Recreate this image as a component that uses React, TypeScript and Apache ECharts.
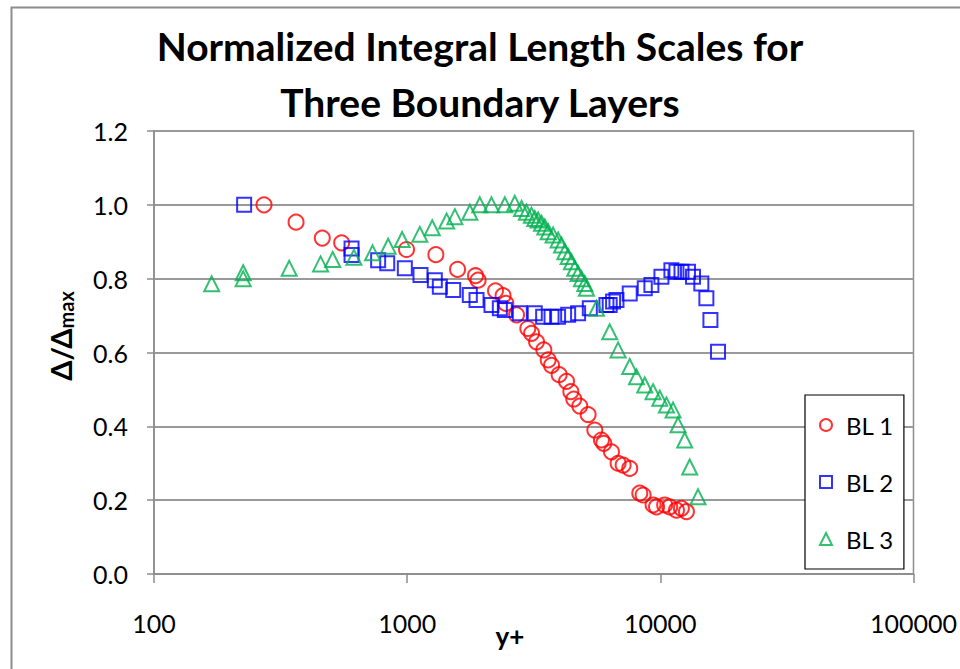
import React, { useEffect, useRef } from "react";
import * as echarts from "echarts";

const titleLines = ["Normalized Integral Length Scales for", "Three Boundary Layers"];
const xTicks = [100, 1000, 10000, 100000];
const seriesNames = ["BL 1", "BL 2", "BL 3"];
const xAxisTitle = "y+";

const bl1: [number, number][] = [
  [272, 1.0], [364, 0.953], [462, 0.91], [551, 0.897], [994, 0.879], [1298, 0.865],
  [1581, 0.825], [1862, 0.808], [1906, 0.796], [2233, 0.767], [2392, 0.754], [2453, 0.733],
  [2704, 0.702], [2996, 0.665], [3100, 0.652], [3243, 0.629], [3466, 0.607], [3605, 0.58],
  [3718, 0.565], [3984, 0.54], [4260, 0.522], [4430, 0.494], [4550, 0.474], [4806, 0.455],
  [5185, 0.432], [5510, 0.39], [5853, 0.363], [5980, 0.354], [6412, 0.331], [6809, 0.30],
  [7130, 0.295], [7571, 0.286], [8295, 0.219], [8550, 0.214], [9360, 0.187], [9660, 0.182],
  [10400, 0.187], [10890, 0.182], [11580, 0.173], [12110, 0.178], [12680, 0.169],
];

const bl2: [number, number][] = [
  [227, 1.0], [603, 0.882], [603, 0.864], [768, 0.85], [834, 0.842], [979, 0.828],
  [1129, 0.81], [1286, 0.796], [1346, 0.778], [1520, 0.769], [1768, 0.756], [1879, 0.742],
  [2153, 0.729], [2323, 0.72], [2431, 0.715], [2786, 0.706], [3192, 0.706], [3444, 0.697],
  [3718, 0.697], [3946, 0.697], [4324, 0.702], [4733, 0.706], [5266, 0.72], [6125, 0.729],
  [6310, 0.729], [6506, 0.738], [6710, 0.742], [7570, 0.76], [8680, 0.774], [9220, 0.783],
  [10100, 0.805], [11060, 0.823], [11580, 0.819], [12120, 0.819], [12860, 0.819],
  [13460, 0.805], [14520, 0.787], [15200, 0.747], [15770, 0.688], [16900, 0.602],
];

const bl3: [number, number][] = [
  [169, 0.786], [225, 0.816], [225, 0.80], [342, 0.828], [455, 0.84], [508, 0.852],
  [616, 0.858], [730, 0.87], [841, 0.888], [955, 0.906], [1122, 0.92], [1256, 0.938],
  [1432, 0.956], [1543, 0.968], [1768, 0.98], [1936, 1.0], [2153, 1.0], [2431, 1.0],
  [2661, 1.004], [2830, 0.99], [2958, 0.98], [3096, 0.972], [3192, 0.963], [3290, 0.959],
  [3393, 0.95], [3497, 0.94], [3605, 0.927], [3771, 0.918], [3947, 0.905], [4072, 0.891],
  [4197, 0.873], [4324, 0.86], [4456, 0.846], [4592, 0.828], [4733, 0.814], [4880, 0.8],
  [5031, 0.787], [5106, 0.774], [5595, 0.72], [6310, 0.656], [6810, 0.607], [7570, 0.562],
  [8050, 0.534], [8680, 0.512], [9360, 0.494], [9950, 0.476], [10570, 0.458], [11230, 0.444],
  [11750, 0.404], [12480, 0.363], [13060, 0.29], [14090, 0.209],
];

const colors = ["#FF0000", "#0000FF", "#00B050"];
const symbols = ["circle", "rect", "triangle"];
const FONT = "Lato, 'Liberation Sans', sans-serif";

export default function App() {
  const ref = useRef<HTMLDivElement>(null);
  useEffect(() => {
    if (!ref.current) return;
    const chart = echarts.init(ref.current, null, { renderer: "svg" });
    const datasets = [bl1, bl2, bl3];
    chart.setOption({
      animation: false,
      backgroundColor: "#ffffff",
      title: {
        text: titleLines.join("\n"),
        left: "center",
        top: 13,
        textStyle: {
          fontFamily: FONT,
          fontWeight: "bold",
          fontSize: 39,
          lineHeight: 56,
          color: "#000",
        },
      },
      grid: {
        left: 154,
        top: 131,
        right: 46,
        bottom: 95,
        show: true,
        borderColor: "#8c8c8c",
        borderWidth: 1.5,
      },
      xAxis: {
        type: "log",
        logBase: 10,
        min: xTicks[0],
        max: xTicks[xTicks.length - 1],
        axisLine: { show: true, lineStyle: { color: "#8c8c8c", width: 1.5 } },
        axisTick: { show: true, length: 9, inside: false, lineStyle: { color: "#8c8c8c", width: 1.5 } },
        minorTick: { show: false },
        splitLine: { show: false },
        axisLabel: {
          fontFamily: FONT,
          fontSize: 25,
          color: "#000",
          margin: 36,
          formatter: (v: number) => String(Math.round(v)),
        },
      },
      yAxis: {
        type: "value",
        min: 0,
        max: 1.2,
        interval: 0.2,
        axisLine: { show: true, lineStyle: { color: "#8c8c8c", width: 1.5 } },
        axisTick: { show: true, length: 7, lineStyle: { color: "#8c8c8c", width: 1.5 } },
        splitLine: { show: true, lineStyle: { color: "#999999", width: 2 } },
        axisLabel: {
          fontFamily: FONT,
          fontSize: 25,
          color: "#000",
          margin: 26,
          formatter: (v: number) => v.toFixed(1),
        },
      },
      legend: {
        orient: "vertical",
        left: 805,
        top: 395,
        width: 95,
        padding: [17, 10, 17, 14],
        itemGap: 31,
        itemWidth: 12,
        itemHeight: 12,
        borderColor: "#000",
        borderWidth: 1.2,
        backgroundColor: "#fff",
        textStyle: {
          fontFamily: FONT,
          fontSize: 24,
          color: "#000",
          lineHeight: 26,
          padding: [0, 0, 0, 9],
        },
        data: seriesNames.map((n, i) => ({
          name: n,
          icon: symbols[i],
          itemStyle: { color: "rgba(0,0,0,0)", borderColor: colors[i], borderWidth: 2 },
        })),
      },
      graphic: [
        {
          type: "rect",
          silent: true,
          shape: { x: 11.5, y: 7.5, width: 1000, height: 700 },
          style: { fill: "none", stroke: "#8c8c8c", lineWidth: 2 },
          z: -10,
        },
        {
          type: "text",
          x: 510,
          y: 636,
          style: {
            text: xAxisTitle,
            align: "center",
            verticalAlign: "middle",
            fontFamily: FONT,
            fontWeight: "bold",
            fontSize: 26,
            fill: "#000",
          },
        },
        {
          type: "text",
          x: 60,
          y: 336,
          rotation: Math.PI / 2,
          style: {
            text: "{a|Δ/Δ}{b|max}",
            align: "center",
            verticalAlign: "middle",
            rich: {
              a: { fontFamily: FONT, fontWeight: "bold", fontSize: 29, fill: "#000" },
              b: { fontFamily: FONT, fontWeight: "bold", fontSize: 20, fill: "#000", padding: [12, 0, 0, 0] },
            },
          },
        },
      ],
      series: datasets.map((d, i) => ({
        name: seriesNames[i],
        type: "scatter",
        data: d,
        symbol: symbols[i],
        symbolSize: i === 1 ? 14 : 15,
        itemStyle: { color: "rgba(0,0,0,0)", borderColor: colors[i], borderWidth: 2 },
        emphasis: { disabled: true },
      })),
    });
    return () => chart.dispose();
  }, []);
  return <div ref={ref} style={{ width: 960, height: 669, position: "absolute", left: 0, top: 0 }} />;
}
